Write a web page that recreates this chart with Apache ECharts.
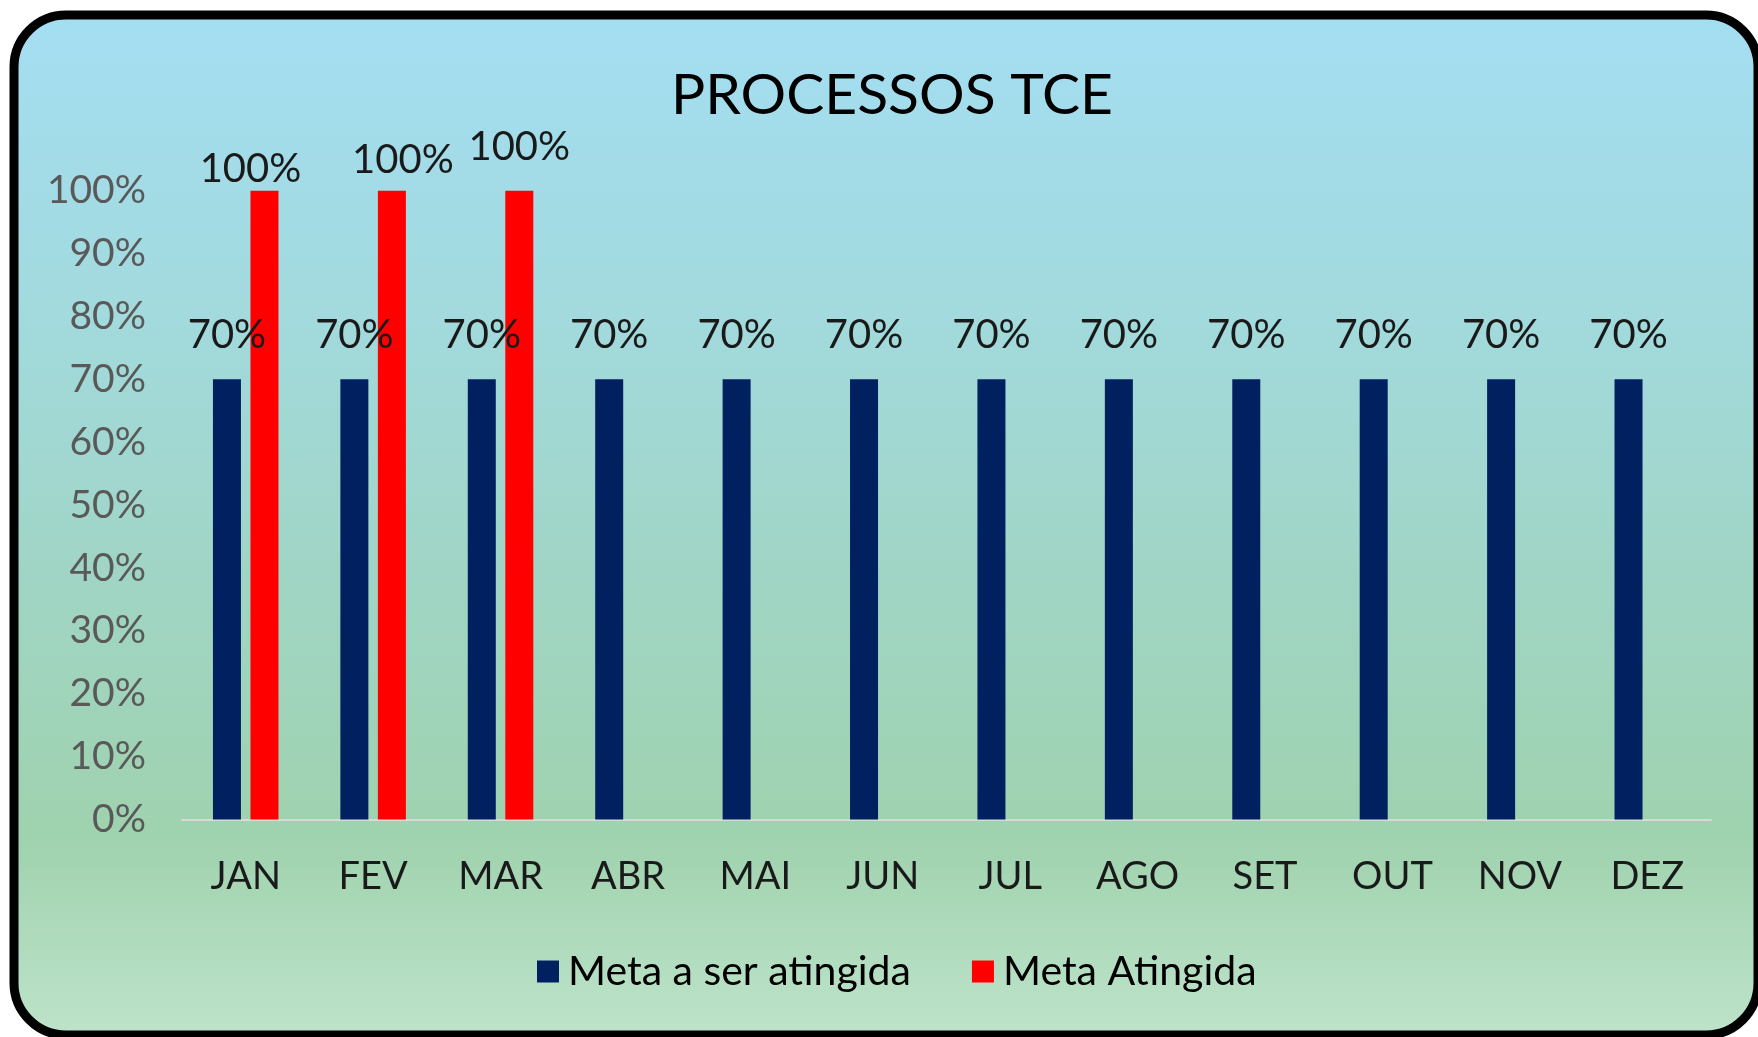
<!DOCTYPE html>
<html>
<head>
<meta charset="utf-8">
<title>PROCESSOS TCE</title>
<script src="https://cdn.jsdelivr.net/npm/echarts@6/dist/echarts.min.js"></script>
<style>
  html, body { margin: 0; padding: 0; background: #fff; }
  #chart { width: 1758px; height: 1037px; }
</style>
</head>
<body>
<div id="chart"></div>
<script>
  var months = ["JAN", "FEV", "MAR", "ABR", "MAI", "JUN", "JUL", "AGO", "SET", "OUT", "NOV", "DEZ"];
  var metaSerAtingida = [70, 70, 70, 70, 70, 70, 70, 70, 70, 70, 70, 70];
  var metaAtingida = [100, 100, 100, null, null, null, null, null, null, null, null, null];

  // labels of the red bars were moved by hand in the original
  var redLabelShift = [[-14, 2], [11, 11], [0, 24]];

  var font = "Lato";

  var chart = echarts.init(document.getElementById("chart"));

  var redData = metaAtingida.map(function (v, i) {
    if (v === null) return "-";
    var s = redLabelShift[i] || [0, 5];
    return { value: v, label: { offset: [s[0], 0], distance: s[1] } };
  });

  var option = {
    animation: false,
    backgroundColor: "#ffffff",
    graphic: [
      {
        type: "rect",
        z: -10,
        silent: true,
        shape: { x: 14, y: 15, width: 1744, height: 1020, r: 52 },
        style: {
          fill: {
            type: "linear",
            x: 0, y: 0, x2: 0, y2: 1,
            colorStops: [
              { offset: 0, color: "#a4def2" },
              { offset: 0.3, color: "#a2dadd" },
              { offset: 0.55, color: "#a0d5c5" },
              { offset: 0.8, color: "#9fd2ae" },
              { offset: 1, color: "#bee3ca" }
            ]
          },
          stroke: "#000000",
          lineWidth: 9
        }
      }
    ],
    title: {
      text: "PROCESSOS TCE",
      left: 666,
      top: 62,
      textStyle: {
        fontFamily: font,
        fontSize: 57,
        fontWeight: "normal",
        color: "#000000"
      }
    },
    legend: {
      left: 532,
      top: 946,
      itemWidth: 22,
      itemHeight: 22,
      itemGap: 61,
      icon: "rect",
      data: ["Meta a ser atingida", "Meta Atingida"],
      textStyle: {
        fontFamily: font,
        fontSize: 41,
        color: "#000000",
        padding: [0, 0, 0, 4]
      }
    },
    grid: {
      left: 182,
      right: 47,
      top: 190.7,
      bottom: 217.5
    },
    xAxis: {
      type: "category",
      data: months,
      axisTick: { show: false },
      axisLine: {
        lineStyle: { color: "#d9d9d9", width: 2 }
      },
      axisLabel: {
        margin: 38,
        fontFamily: font,
        fontSize: 38,
        color: "#1a1a1a"
      }
    },
    yAxis: {
      type: "value",
      min: 0,
      max: 100,
      interval: 10,
      axisLine: { show: false },
      axisTick: { show: false },
      splitLine: { show: false },
      axisLabel: {
        margin: 36,
        fontFamily: font,
        fontSize: 39,
        color: "#595959",
        formatter: "{value}%"
      }
    },
    series: [
      {
        name: "Meta a ser atingida",
        type: "bar",
        barWidth: 28,
        barGap: "34%",
        data: metaSerAtingida,
        itemStyle: { color: "#002060" },
        label: {
          show: true,
          position: "top",
          distance: 24,
          formatter: "{c}%",
          fontFamily: font,
          fontSize: 40,
          color: "#1a1a1a"
        }
      },
      {
        name: "Meta Atingida",
        type: "bar",
        barWidth: 28,
        data: redData,
        itemStyle: { color: "#ff0000" },
        label: {
          show: true,
          position: "top",
          formatter: "{c}%",
          fontFamily: font,
          fontSize: 40,
          color: "#1a1a1a"
        }
      }
    ]
  };

  chart.setOption(option);
</script>
</body>
</html>
